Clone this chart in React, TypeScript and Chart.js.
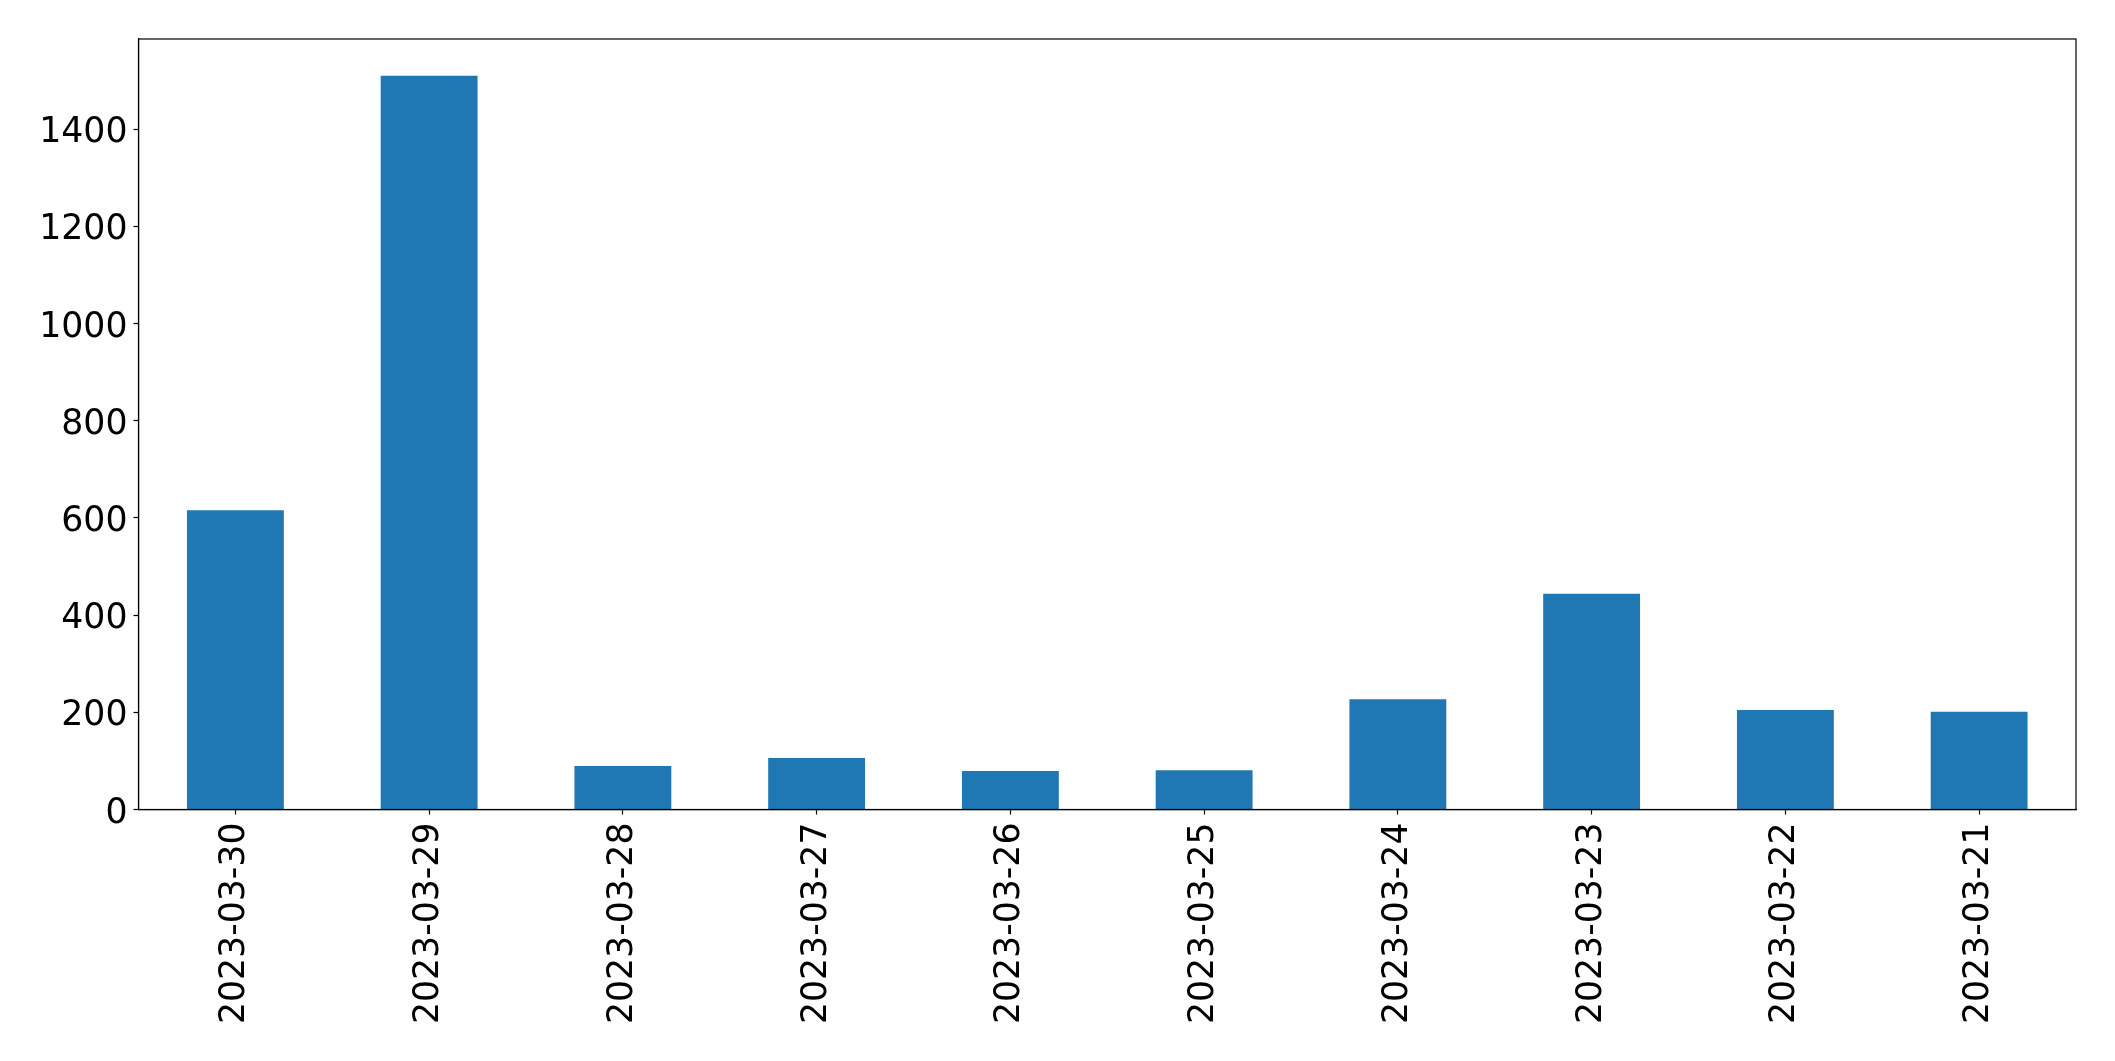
import React, { useEffect, useRef } from "react";
import { Chart, registerables } from "chart.js";

Chart.register(...registerables);

const categories = [
  "2023-03-30",
  "2023-03-29",
  "2023-03-28",
  "2023-03-27",
  "2023-03-26",
  "2023-03-25",
  "2023-03-24",
  "2023-03-23",
  "2023-03-22",
  "2023-03-21",
];
const counts = [616, 1510, 89.5, 106, 79, 81, 227, 444, 205, 201];
const yTickValues = [0, 200, 400, 600, 800, 1000, 1200, 1400];
const yMax = 1585.5;

const W = 2115;
const H = 1061;
const PLOT_LEFT = 138.5;
const PLOT_TOP = 39;
const PLOT_RIGHT = 2076;
const PLOT_BOTTOM = 809.5;
const FONT = "'DejaVu Sans', sans-serif";
const FONT_SIZE = 34.7;

const frame = {
  id: "frame",
  afterDatasetsDraw(chart: any) {
    const { ctx, chartArea } = chart;
    ctx.save();
    ctx.strokeStyle = "#000";
    ctx.lineWidth = 1.2;
    ctx.strokeRect(
      chartArea.left,
      chartArea.top,
      chartArea.right - chartArea.left,
      chartArea.bottom - chartArea.top
    );
    ctx.restore();
  },
};

export default function App() {
  const ref = useRef<HTMLCanvasElement | null>(null);

  useEffect(() => {
    document.body.style.margin = "0";
    const canvas = ref.current;
    if (!canvas) return;
    const chart = new Chart(canvas, {
      type: "bar",
      data: {
        labels: categories,
        datasets: [
          {
            data: counts,
            backgroundColor: "#1f77b4",
            borderWidth: 0,
            categoryPercentage: 1,
            barPercentage: 0.5,
          },
        ],
      },
      options: {
        animation: false,
        responsive: false,
        maintainAspectRatio: false,
        devicePixelRatio: 1,
        layout: {
          padding: { left: 0, top: PLOT_TOP, right: W - PLOT_RIGHT, bottom: 0 },
        },
        plugins: {
          legend: { display: false },
          tooltip: { enabled: false },
        },
        scales: {
          x: {
            type: "category",
            offset: true,
            grid: {
              offset: false,
              drawOnChartArea: false,
              drawTicks: true,
              tickLength: 5,
              tickWidth: 1.2,
              tickColor: "#000",
              color: "#000",
            },
            border: { display: true, color: "#000", width: 1.2 },
            ticks: {
              color: "#000",
              font: { family: FONT, size: FONT_SIZE },
              maxRotation: 90,
              minRotation: 90,
              autoSkip: false,
              padding: 8,
            },
            afterFit(scale: any) {
              scale.height = H - PLOT_BOTTOM;
            },
          },
          y: {
            type: "linear",
            min: 0,
            max: yMax,
            grid: {
              drawOnChartArea: false,
              drawTicks: true,
              tickLength: 5,
              tickWidth: 1.2,
              tickColor: "#000",
              color: "#000",
            },
            border: { display: true, color: "#000", width: 1.2 },
            ticks: {
              color: "#000",
              font: { family: FONT, size: FONT_SIZE },
              padding: 6,
              labelOffset: 4,
              callback: (v: any) => String(v),
            },
            afterBuildTicks(scale: any) {
              scale.ticks = yTickValues.map((v) => ({ value: v }));
            },
            afterFit(scale: any) {
              scale.width = PLOT_LEFT;
            },
          },
        },
      },
      plugins: [frame],
    });
    return () => chart.destroy();
  }, []);

  return (
    <div
      style={{
        position: "fixed",
        left: 0,
        top: 0,
        width: W,
        height: H,
        background: "#fff",
      }}
    >
      <canvas ref={ref} width={W} height={H} style={{ width: W, height: H, display: "block" }} />
    </div>
  );
}
